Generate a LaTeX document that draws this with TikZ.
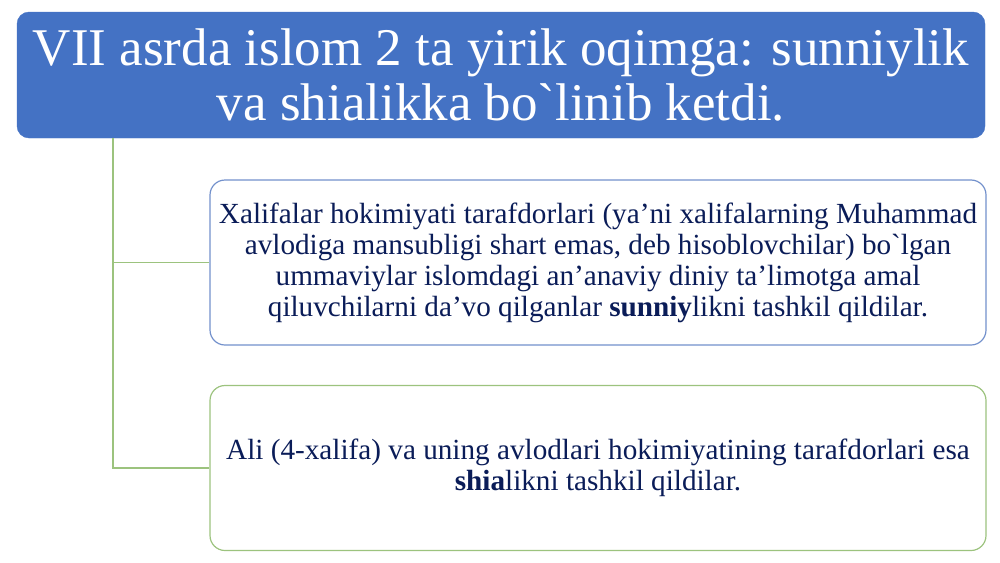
\documentclass[tikz,border=0pt]{standalone}
\usepackage{fontspec}
\setmainfont{Liberation Serif}
\definecolor{titleblue}{HTML}{4472C4}
\definecolor{boxblue}{HTML}{7391CC}
\definecolor{boxgreen}{HTML}{9CC37E}
\definecolor{navytext}{HTML}{0A1C58}
\tikzset{
  titlebox/.style = {fill = titleblue, draw = titleblue, rounded corners = 12pt, text = white,
    minimum width = 968pt, minimum height = 126pt, align = center,
    font = \fontsize{53}{55}\selectfont},
  itembox/.style = {draw, line width = 1.2pt, fill = white, rounded corners = 15pt, text = navytext,
    minimum width = 776pt, minimum height = 165pt, align = center,
    font = \fontsize{29.2}{31}\selectfont},
  conn/.style = {draw = boxgreen, line width = 1.3pt},
}
\begin{document}
\begin{tikzpicture}[x = 1pt, y = -1pt]

\useasboundingbox (0,0) rectangle (1000,562);
\node[titlebox] (title) at (501,75) {VII asrda islom 2 ta yirik oqimga: sunniylik\\va shialikka bo\textasciigrave linib ketdi.};
\coordinate (spine) at (113,0);
\node[itembox, draw = boxblue] (sunni) at (598,262.5) {Xalifalar hokimiyati tarafdorlari (ya’ni xalifalarning Muhammad\\avlodiga mansubligi shart emas, deb hisoblovchilar) bo\textasciigrave lgan\\ummaviylar islomdagi an’anaviy diniy ta’limotga amal\\qiluvchilarni da’vo qilganlar \textbf{sunniy}likni tashkil qildilar.};
\node[itembox, draw = boxgreen] (shia) at (598,468) {Ali (4-xalifa) va uning avlodlari hokimiyatining tarafdorlari esa\\\textbf{shia}likni tashkil qildilar.};
\draw[conn] (title.south -| spine) |- (sunni.west);
\draw[conn] (title.south -| spine) |- (shia.west);

\end{tikzpicture}
\end{document}
